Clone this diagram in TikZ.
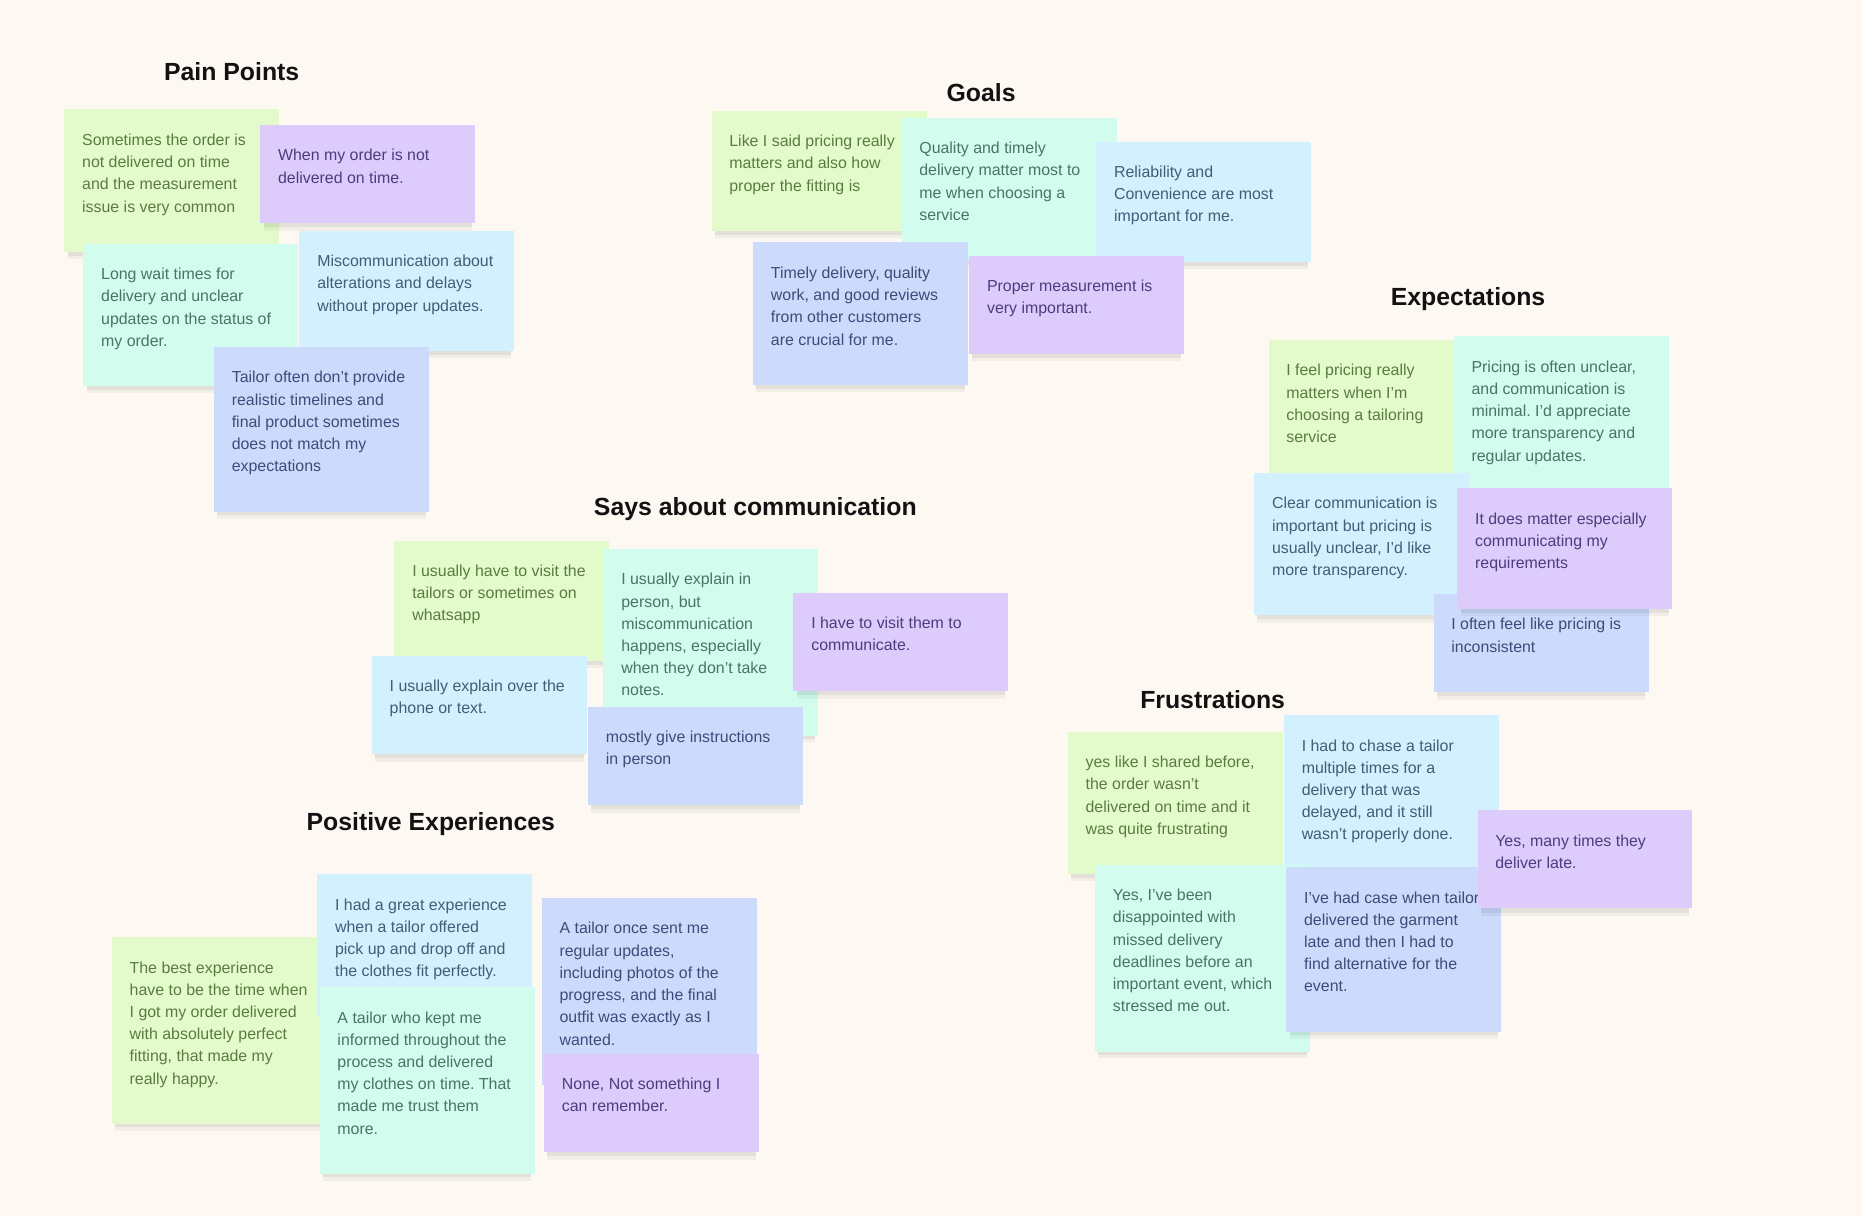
\documentclass[tikz,border=0pt]{standalone}
\usepackage{fontspec}
\setmainfont{Liberation Sans}
\usetikzlibrary{shadows}
\definecolor{bgcol}{HTML}{FDF9F2}
\definecolor{stgreen}{HTML}{E3FBCB}
\definecolor{stpurple}{HTML}{DDCBFB}
\definecolor{stteal}{HTML}{D1FCEE}
\definecolor{stltblue}{HTML}{D2F0FD}
\definecolor{stblue}{HTML}{CCDBFB}
\definecolor{txgreen}{HTML}{5A7B40}
\definecolor{txpurple}{HTML}{4A3D7E}
\definecolor{txteal}{HTML}{4B7366}
\definecolor{txltblue}{HTML}{415D77}
\definecolor{txblue}{HTML}{3D4B7A}
\newcommand\stickytext[2]{%
  \parbox[t][\dimexpr 45.3pt+18.7pt*#1\relax][t]{151pt}{%
    \fontsize{13.4pt}{18.7pt}\selectfont\frenchspacing
    \def\\{\egroup\par\hbox\bgroup}%
    \leavevmode\rule{0pt}{30.3pt}\hbox\bgroup#2\egroup\par}}
\tikzset{
  stickybase/.style={anchor=north west, inner xsep=15pt, inner ysep=0pt,
    font=\fontsize{13.4pt}{18.7pt}\selectfont,
    general shadow={fill=black, opacity=0.045, shadow scale=0.97, shadow yshift=-8pt},
    general shadow={fill=black, opacity=0.06, shadow scale=0.97, shadow yshift=-5pt}},
  sgreen/.style={stickybase, fill=stgreen, text=txgreen},
  spurple/.style={stickybase, fill=stpurple, text=txpurple},
  steal/.style={stickybase, fill=stteal, text=txteal},
  sltblue/.style={stickybase, fill=stltblue, text=txltblue},
  sblue/.style={stickybase, fill=stblue, text=txblue},
  title/.style={anchor=base west, inner sep=0pt, text=black!93,
    font=\bfseries\fontsize{20.9pt}{24pt}\selectfont}
}
\begin{document}
\begin{tikzpicture}[x=1pt, y=-1pt]
\path[use as bounding box, fill=bgcol] (0,0) rectangle (1568,1024);

% ---------------- Pain Points
\node[title] (tpain) at (138,67.5) {Pain Points};
\node[sgreen] (s1) at (54,92) {\stickytext{4}{Sometimes the order is\\not delivered on time\\and the measurement\\issue is very common}};
\node[spurple] (s2) at (219,105) {\stickytext{2}{When my order is not\\delivered on time.}};
\node[steal] (s3) at (70,205) {\stickytext{4}{Long wait times for\\delivery and unclear\\updates on the status of\\my order.}};
\node[sltblue] (s4) at (252,194) {\stickytext{3}{Miscommunication about\\alterations and delays\\without proper updates.}};
\node[sblue] (s5) at (180,292) {\stickytext{5}{Tailor often don’t provide\\realistic timelines and\\final product sometimes\\does not match my\\expectations}};

% ---------------- Goals
\node[title] (tgoals) at (797,85.6) {Goals};
\node[sgreen] (g1) at (599,93) {\stickytext{3}{Like I said pricing really\\matters and also how\\proper the fitting is}};
\node[steal] (g2) at (759,99) {\stickytext{4}{Quality and timely\\delivery matter most to\\me when choosing a\\service}};
\node[sltblue] (g3) at (923,119) {\stickytext{3}{Reliability and\\Convenience are most\\important for me.}};
\node[sblue] (g4) at (634,204) {\stickytext{4}{Timely delivery, quality\\work, and good reviews\\from other customers\\are crucial for me.}};
\node[spurple] (g5) at (816,215) {\stickytext{2}{Proper measurement is\\very important.}};

% ---------------- Expectations
\node[title] (texp) at (1171,257) {Expectations};
\node[sgreen] (e1) at (1068,286) {\stickytext{4}{I feel pricing really\\matters when I’m\\choosing a tailoring\\service}};
\node[steal] (e2) at (1224,283) {\stickytext{5}{Pricing is often unclear,\\and communication is\\minimal. I'd appreciate\\more transparency and\\regular updates.}};
\node[sltblue] (e3) at (1056,398) {\stickytext{4}{Clear communication is\\important but pricing is\\usually unclear, I’d like\\more transparency.}};
\node[sblue] (e5) at (1207,500) {\stickytext{2}{I often feel like pricing is\\inconsistent}};
\node[spurple] (e4) at (1227,411) {\stickytext{3}{It does matter especially\\communicating my\\requirements}};

% ---------------- Says about communication
\node[title] (tsays) at (500,434.5) {Says about communication};
\node[sgreen] (c1) at (332,455) {\stickytext{3}{I usually have to visit the\\tailors or sometimes on\\whatsapp}};
\node[steal] (c2) at (508,462) {\stickytext{6}{I usually explain in\\person, but\\miscommunication\\happens, especially\\when they don't take\\notes.}};
\node[sltblue] (c3) at (313,552) {\stickytext{2}{I usually explain over the\\phone or text.}};
\node[spurple] (c4) at (668,499) {\stickytext{2}{I have to visit them to\\communicate.}};
\node[sblue] (c5) at (495,595) {\stickytext{2}{mostly give instructions\\in person}};

% ---------------- Positive Experiences
\node[title] (tpos) at (258,699) {Positive Experiences};
\node[sgreen] (p1) at (94,789) {\stickytext{6}{The best experience\\have to be the time when\\I got my order delivered\\with absolutely perfect\\fitting, that made my\\really happy.}};
\node[sltblue] (p2) at (267,736) {\stickytext{4}{I had a great experience\\when a tailor offered\\pick up and drop off and\\the clothes fit perfectly.}};
\node[steal] (p3) at (269,831) {\stickytext{6}{A tailor who kept me\\informed throughout the\\process and delivered\\my clothes on time. That\\made me trust them\\more.}};
\node[sblue] (p4) at (456,756) {\stickytext{6}{A tailor once sent me\\regular updates,\\including photos of the\\progress, and the final\\outfit was exactly as I\\wanted.}};
\node[spurple] (p5) at (458,887) {\stickytext{2}{None, Not something I\\can remember.}};

% ---------------- Frustrations
\node[title] (tfru) at (960,596.3) {Frustrations};
\node[sgreen] (f1) at (899,616) {\stickytext{4}{yes like I shared before,\\the order wasn’t\\delivered on time and it\\was quite frustrating}};
\node[sltblue] (f2) at (1081,602) {\stickytext{5}{I had to chase a tailor\\multiple times for a\\delivery that was\\delayed, and it still\\wasn’t properly done.}};
\node[steal] (f3) at (922,728) {\stickytext{6}{Yes, I’ve been\\disappointed with\\missed delivery\\deadlines before an\\important event, which\\stressed me out.}};
\node[sblue] (f5) at (1083,730) {\stickytext{5}{I’ve had case when tailor\\delivered the garment\\late and then I had to\\find alternative for the\\event.}};
\node[spurple] (f4) at (1244,682) {\stickytext{2}{Yes, many times they\\deliver late.}};
\end{tikzpicture}
\end{document}
